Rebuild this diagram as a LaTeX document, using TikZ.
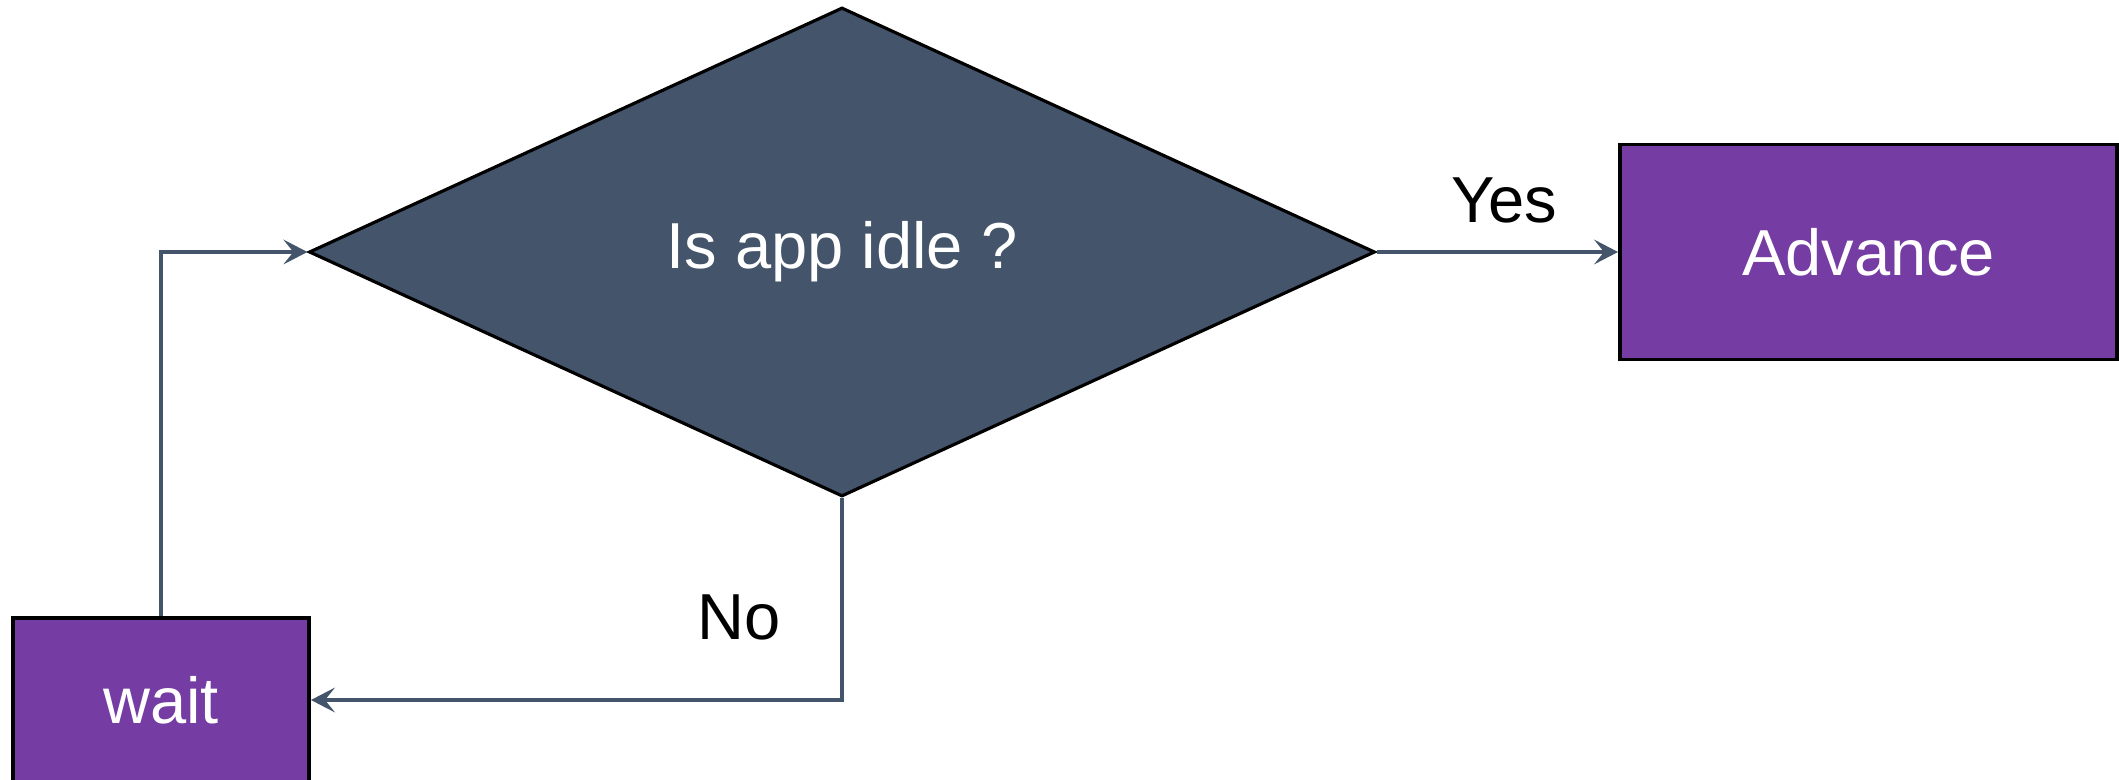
\documentclass[tikz,border=0pt]{standalone}
\usepackage{fontspec}
\setmainfont{Liberation Sans}
\usetikzlibrary{arrows.meta,%
                shapes.geometric,positioning}

\definecolor{slate}{RGB}{68,84,106}
\definecolor{plum}{RGB}{117,60,163}

\tikzset{
  decision/.style={diamond, draw=black, line width=0.9pt, fill=slate,
    text=white, inner sep=0pt, minimum width=10.66cm, minimum height=4.89cm},
  stepbox/.style={rectangle, draw=black, line width=1.1pt, fill=plum,
    text=white, inner sep=0pt},
  flow/.style={draw=slate, line width=1.1pt,
    -{Stealth[length=6.8pt, width=7pt, inset=2.8pt]}},
  tag/.style={text=black}
}

\begin{document}
\begin{tikzpicture}[font=\fontsize{18.5}{22}\selectfont]
\useasboundingbox (0,0) rectangle (21.19,7.79);

\node[decision] (idle) at (8.42,5.27) {Is app idle ?};
\node[stepbox, minimum width=4.97cm, minimum height=2.15cm] (advance) at (18.685,5.27) {Advance};
\node[stepbox, minimum width=2.96cm, minimum height=1.64cm] (wait) at (1.61,0.79) {wait};

\draw[flow] (idle.east) -- node[tag, midway, above=0.15cm, xshift=0.07cm] (yes) {Yes} (advance.west);
\draw[flow] (idle.south) |- node[tag, pos=0.296, left=0.48cm] (no) {No} (wait.east);
\draw[flow] (wait.north) |- (idle.west);
\end{tikzpicture}
\end{document}
